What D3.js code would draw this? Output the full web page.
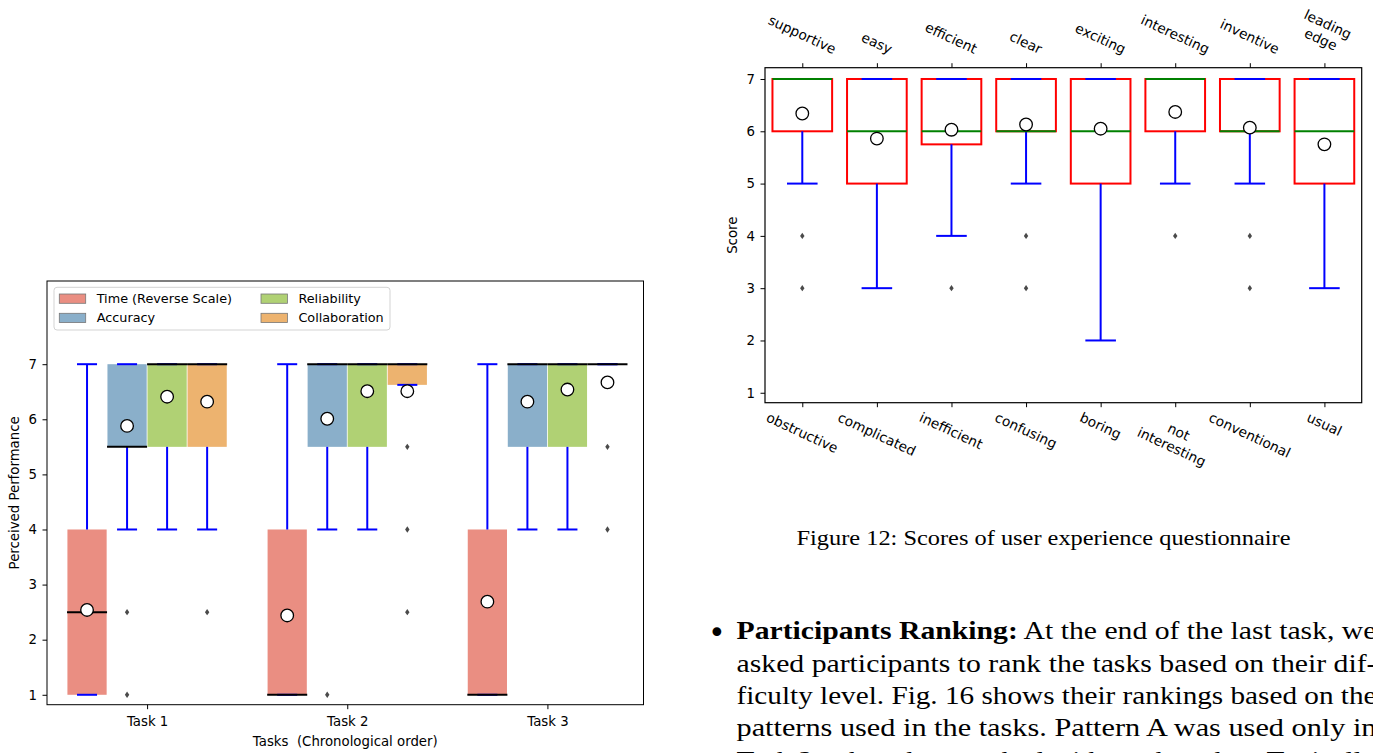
<!DOCTYPE html>
<html>
<head>
<meta charset="utf-8">
<script src="https://cdn.jsdelivr.net/npm/d3@7"></script>
<style>
body{margin:0;background:#fff;}
svg{display:block;background:#fff;}
text{font-family:"DejaVu Sans";fill:#000;}
.serif{font-family:"Liberation Serif";}
</style>
</head>
<body>
<svg id="fig" width="1373" height="753"></svg>
<script>
'use strict'

// ---- left chart: perceived performance per task ----
var taskLabels = ['Task 1', 'Task 2', 'Task 3'];
var metricNames = ['Time (Reverse Scale)', 'Accuracy', 'Reliability', 'Collaboration'];
var metricColors = ['#ea8e82', '#8aafca', '#b0d174', '#edb36f'];
// [low whisker, q1, median, q3, high whisker] per task, per metric
var perfStats = [
	[[1,1,2.5,4,7], [4,5.5,5.5,7,7], [4,5.5,7,7,7], [4,5.5,7,7,7]],
	[[1,1,1,4,7],   [4,5.5,7,7,7],   [4,5.5,7,7,7], [6.625,6.625,7,7,7]],
	[[1,1,1,4,7],   [4,5.5,7,7,7],   [4,5.5,7,7,7], [7,7,7,7,7]]
];
var perfMeans = [[2.54,5.88,6.41,6.32], [2.44,6.01,6.51,6.51], [2.69,6.32,6.54,6.67]];
var perfFliers = [[[],[2.5,1],[],[2.5]], [[],[1],[],[5.5,4,2.5]], [[],[],[],[5.5,4]]];
var perfTicks = [1,2,3,4,5,6,7];

// ---- right chart: user experience questionnaire ----
var uxTop = ['supportive','easy','efficient','clear','exciting','interesting','inventive','leading\nedge'];
var uxBottom = ['obstructive','complicated','inefficient','confusing','boring','not\ninteresting','conventional','usual'];
var uxStats = [[5,6,7,7,7],[3,5,6,7,7],[4,5.75,6,7,7],[5,6,6,7,7],[2,5,6,7,7],[5,6,7,7,7],[5,6,6,7,7],[3,5,6,7,7]];
var uxMeans = [6.34,5.86,6.03,6.13,6.05,6.37,6.07,5.75];
var uxFliers = [[4,3],[],[3],[4,3],[],[4],[4,3],[]];
var uxTicks = [1,2,3,4,5,6,7];

// ---- page text ----
var captionText = 'Figure 12: Scores of user experience questionnaire';
var bulletHead = 'Participants Ranking:';
var bodyLines = [
	' At the end of the last task, we',
	'asked participants to rank the tasks based on their dif-',
	'ficulty level. Fig. 16 shows their rankings based on the',
	'patterns used in the tasks. Pattern A was used only in',
	'Task 2, when they worked without the robot. Typically'
];

var svg = d3.select('#fig');
var fs = 13.3;
var flierPath = 'M0,-3.2L2.2,0L0,3.2L-2.2,0Z';

// ================= LEFT CHART =================
var L = {left:47, right:643.5, top:281, bottom:704.7};
var xL = d3.scaleLinear().domain([0.5,3.48]).range([L.left,L.right]);
var yL = d3.scaleLinear().domain([0.82,8.51]).range([L.bottom,L.top]);
var offs = [-0.3,-0.1,0.1,0.3];
var bw = 0.2, cw = 0.1;

var perf = [];
for(var t=0;t<taskLabels.length;t++){
	for(var m=0;m<metricNames.length;m++){
		perf.push({pos:t+1+offs[m], s:perfStats[t][m], mean:perfMeans[t][m], fl:perfFliers[t][m], color:metricColors[m]});
	}
}

var gL = svg.append('g');
gL.selectAll('rect.box').data(perf).join('rect')
	.attr('x', function(d){return xL(d.pos-bw/2)+0.4;})
	.attr('width', function(d){return xL(d.pos+bw/2)-xL(d.pos-bw/2)-0.8;})
	.attr('y', function(d){return yL(d.s[3]);})
	.attr('height', function(d){return yL(d.s[1])-yL(d.s[3]);})
	.attr('fill', function(d){return d.color;});
// whiskers
gL.selectAll('line.wlo').data(perf).join('line')
	.attr('x1', function(d){return xL(d.pos);}).attr('x2', function(d){return xL(d.pos);})
	.attr('y1', function(d){return yL(d.s[1]);}).attr('y2', function(d){return yL(d.s[0]);})
	.attr('stroke','#0000ff').attr('stroke-width',2);
gL.selectAll('line.whi').data(perf).join('line')
	.attr('x1', function(d){return xL(d.pos);}).attr('x2', function(d){return xL(d.pos);})
	.attr('y1', function(d){return yL(d.s[3]);}).attr('y2', function(d){return yL(d.s[4]);})
	.attr('stroke','#0000ff').attr('stroke-width',2);
[0,4].forEach(function(k){
	gL.selectAll('line.cap'+k).data(perf).join('line')
		.attr('x1', function(d){return xL(d.pos-cw/2);}).attr('x2', function(d){return xL(d.pos+cw/2);})
		.attr('y1', function(d){return yL(d.s[k]);}).attr('y2', function(d){return yL(d.s[k]);})
		.attr('stroke','#0000ff').attr('stroke-width',2);
});
gL.selectAll('line.med').data(perf).join('line')
	.attr('x1', function(d){return xL(d.pos-bw/2);}).attr('x2', function(d){return xL(d.pos+bw/2);})
	.attr('y1', function(d){return yL(d.s[2]);}).attr('y2', function(d){return yL(d.s[2]);})
	.attr('stroke','#000').attr('stroke-width',2);
perf.forEach(function(d){
	gL.selectAll(null).data(d.fl).join('path')
		.attr('d', flierPath)
		.attr('transform', function(v){return 'translate('+xL(d.pos)+','+yL(v)+')';})
		.attr('fill','#4a4a4a');
});
gL.selectAll('circle.mean').data(perf).join('circle')
	.attr('cx', function(d){return xL(d.pos);})
	.attr('cy', function(d){return yL(d.mean);})
	.attr('r',6.3).attr('fill','#fff').attr('stroke','#000').attr('stroke-width',1.3);

// axes
var axL = gL.append('g').attr('transform','translate('+L.left+',0)')
	.call(d3.axisLeft(yL).tickValues(perfTicks).tickSize(4.5).tickPadding(5.5).tickFormat(d3.format('d')));
var axB = gL.append('g').attr('transform','translate(0,'+L.bottom+')')
	.call(d3.axisBottom(xL).tickValues([1,2,3]).tickSize(4.5).tickPadding(7.5).tickFormat(function(d){return taskLabels[d-1];}));
[axL,axB].forEach(function(a){
	a.attr('font-family','DejaVu Sans').attr('font-size',fs);
	a.select('.domain').remove();
	a.selectAll('.tick line').attr('stroke','#000');
});
gL.append('rect').attr('x',L.left).attr('y',L.top).attr('width',L.right-L.left).attr('height',L.bottom-L.top)
	.attr('fill','none').attr('stroke','#000').attr('stroke-width',1);
gL.append('text').attr('x',(L.left+L.right)/2).attr('y',746.4).attr('text-anchor','middle')
	.attr('font-size',fs).style('white-space','pre').text('Tasks  (Chronological order)');
gL.append('text').attr('transform','translate(18.5,'+((L.top+L.bottom)/2)+') rotate(-90)')
	.attr('text-anchor','middle').attr('font-size',fs).text('Perceived Performance');

// legend
var leg = gL.append('g');
leg.append('rect').attr('x',54).attr('y',287.3).attr('width',336).attr('height',42.7).attr('rx',3)
	.attr('fill','#fff').attr('stroke','#d3d3d3').attr('stroke-width',1);
var legX = [59.3, 261], legY = [294, 313.3];
metricNames.forEach(function(n,i){
	var col = i<2 ? 0 : 1, row = i%2;
	var it = leg.append('g').attr('transform','translate('+legX[col]+','+legY[row]+')');
	it.append('rect').attr('width',26.4).attr('height',9.3).attr('fill',metricColors[i])
		.attr('stroke','#777').attr('stroke-width',0.8);
	it.append('text').attr('x',37.4).attr('y',9).attr('font-size',12.8).text(n);
});

// ================= RIGHT CHART =================
var R = {left:765, right:1361.7, top:67.7, bottom:402.7};
var xR = d3.scaleLinear().domain([0.5,8.5]).range([R.left,R.right]);
var yR = d3.scaleLinear().domain([0.81,7.216]).range([R.bottom,R.top]);
var rbw = 0.8, rcw = 0.41;
var ux = uxStats.map(function(s,i){return {pos:i+1, s:s, mean:uxMeans[i], fl:uxFliers[i]};});

var gR = svg.append('g');
gR.selectAll('rect.box').data(ux).join('rect')
	.attr('x', function(d){return xR(d.pos-rbw/2);})
	.attr('width', function(d){return xR(d.pos+rbw/2)-xR(d.pos-rbw/2);})
	.attr('y', function(d){return yR(d.s[3]);})
	.attr('height', function(d){return yR(d.s[1])-yR(d.s[3]);})
	.attr('fill','none').attr('stroke','#ff0000').attr('stroke-width',2);
gR.selectAll('line.wlo').data(ux).join('line')
	.attr('x1', function(d){return xR(d.pos);}).attr('x2', function(d){return xR(d.pos);})
	.attr('y1', function(d){return yR(d.s[1]);}).attr('y2', function(d){return yR(d.s[0]);})
	.attr('stroke','#0000ff').attr('stroke-width',2);
gR.selectAll('line.whi').data(ux).join('line')
	.attr('x1', function(d){return xR(d.pos);}).attr('x2', function(d){return xR(d.pos);})
	.attr('y1', function(d){return yR(d.s[3]);}).attr('y2', function(d){return yR(d.s[4]);})
	.attr('stroke','#0000ff').attr('stroke-width',2);
[0,4].forEach(function(k){
	gR.selectAll('line.cap'+k).data(ux).join('line')
		.attr('x1', function(d){return xR(d.pos-rcw/2);}).attr('x2', function(d){return xR(d.pos+rcw/2);})
		.attr('y1', function(d){return yR(d.s[k]);}).attr('y2', function(d){return yR(d.s[k]);})
		.attr('stroke','#0000ff').attr('stroke-width',2);
});
gR.selectAll('line.med').data(ux).join('line')
	.attr('x1', function(d){return xR(d.pos-rbw/2);}).attr('x2', function(d){return xR(d.pos+rbw/2);})
	.attr('y1', function(d){return yR(d.s[2]);}).attr('y2', function(d){return yR(d.s[2]);})
	.attr('stroke','#008000').attr('stroke-width',2);
ux.forEach(function(d){
	gR.selectAll(null).data(d.fl).join('path')
		.attr('d', flierPath)
		.attr('transform', function(v){return 'translate('+xR(d.pos)+','+yR(v)+')';})
		.attr('fill','#4a4a4a');
});
gR.selectAll('circle.mean').data(ux).join('circle')
	.attr('cx', function(d){return xR(d.pos);})
	.attr('cy', function(d){return yR(d.mean);})
	.attr('r',6.3).attr('fill','#fff').attr('stroke','#000').attr('stroke-width',1.3);

var axRL = gR.append('g').attr('transform','translate('+R.left+',0)')
	.call(d3.axisLeft(yR).tickValues(uxTicks).tickSize(4.5).tickPadding(5.5).tickFormat(d3.format('d')));
var axRB = gR.append('g').attr('transform','translate(0,'+R.bottom+')')
	.call(d3.axisBottom(xR).tickValues(d3.range(1,9)).tickSize(4.5).tickFormat(''));
var axRT = gR.append('g').attr('transform','translate(0,'+R.top+')')
	.call(d3.axisTop(xR).tickValues(d3.range(1,9)).tickSize(4.5).tickFormat(''));
[axRL,axRB,axRT].forEach(function(a){
	a.attr('font-family','DejaVu Sans').attr('font-size',fs);
	a.select('.domain').remove();
	a.selectAll('.tick line').attr('stroke','#000');
});
gR.append('rect').attr('x',R.left).attr('y',R.top).attr('width',R.right-R.left).attr('height',R.bottom-R.top)
	.attr('fill','none').attr('stroke','#000').attr('stroke-width',1.2);
gR.append('text').attr('transform','translate(737,'+((R.top+R.bottom)/2)+') rotate(-90)')
	.attr('text-anchor','middle').attr('font-size',fs).text('Score');

function placeRotated(parent, label, x, anchorY, above){
	var g = parent.append('g');
	var txt = g.append('text').attr('font-size',13.7).attr('text-anchor','middle').attr('transform','rotate(25)');
	label.split('\n').forEach(function(line,i){
		txt.append('tspan').attr('x',0).attr('dy', i ? '1.2em' : 0).text(line);
	});
	var bb = g.node().getBBox();
	var dx = x - (bb.x + bb.width/2);
	var dy = above ? anchorY - (bb.y + bb.height) : anchorY - bb.y;
	g.attr('transform','translate('+dx+','+dy+')');
}
uxTop.forEach(function(l,i){ placeRotated(gR, l, xR(i+1), 57, true); });
uxBottom.forEach(function(l,i){ placeRotated(gR, l, xR(i+1), 409, false); });

// ================= PAGE TEXT =================
svg.append('text').attr('class','serif').attr('x',1043.5).attr('y',545).attr('text-anchor','middle')
	.attr('font-size',22).attr('textLength',494).attr('lengthAdjust','spacingAndGlyphs').text(captionText);

svg.append('text').attr('x',708).attr('y',643).attr('font-size',30).text('\u2022');
var lineY = [639.3, 671.6, 703.9, 736.2, 768.5];
bodyLines.forEach(function(line,i){
	var tx = svg.append('text').attr('class','serif').attr('x',736.5).attr('y',lineY[i]).attr('font-size',26)
		.attr('textLength',640).attr('lengthAdjust','spacingAndGlyphs').style('white-space','pre');
	if(i==0) tx.append('tspan').attr('font-weight','bold').text(bulletHead);
	tx.append('tspan').text(line);
});
</script>
</body>
</html>
